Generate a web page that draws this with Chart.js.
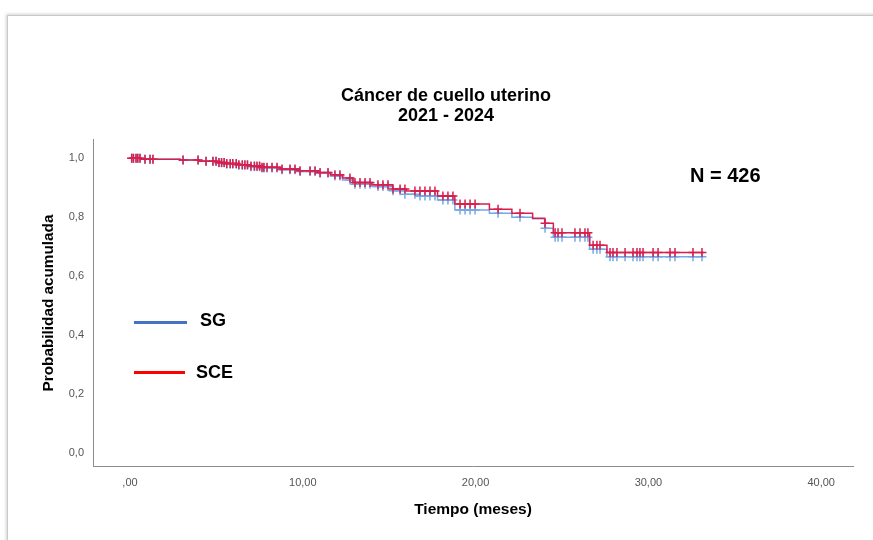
<!DOCTYPE html>
<html lang="es">
<head>
<meta charset="UTF-8">
<title>Cáncer de cuello uterino 2021 - 2024</title>
<script src="https://cdn.jsdelivr.net/npm/chart.js"></script>
<style>
  html, body { margin: 0; padding: 0; background: #fff; overflow: hidden; }
  body { width: 873px; height: 540px; position: relative; font-family: "Liberation Sans", Arial, sans-serif; }
  .marco { position: absolute; left: 7px; top: 15px; width: 880px; height: 540px;
           border-top: 1px solid #c9c9c9; border-left: 1px solid #c9c9c9;
           box-shadow: -1px -1px 3px rgba(0,0,0,.18); }
  #km { position: absolute; left: 0; top: 0; }
  .linea { position: absolute; left: 134px; }
  .etq { position: absolute; font-weight: bold; color: #000; white-space: nowrap; }
</style>
</head>
<body>
<div class="marco"></div>
<canvas id="km" width="873" height="540"></canvas>

<div class="linea" style="top:320.5px; width:53px; height:3.5px; background:#4472c4;"></div>
<div class="etq" style="left:200px; top:311px; font-size:18px; line-height:18px;">SG</div>
<div class="linea" style="top:371px; width:51px; height:3px; background:#ff0000;"></div>
<div class="etq" style="left:196px; top:363px; font-size:18px; line-height:18px;">SCE</div>
<div class="etq" style="left:690px; top:165px; font-size:20px; line-height:20px;">N = 426</div>

<script>
// meses en que cambia la supervivencia (Kaplan-Meier) y valor desde ese mes
const sceTiempo = [0, 0.6, 2.9, 4.0, 5.0, 5.5, 6.3, 7.0, 7.6, 8.7, 9.8, 10.9, 11.6, 12.3, 12.9,
                   14.0, 15.2, 16.0, 17.8, 18.8, 20.8, 22.1, 23.3, 24.0, 24.5, 26.6, 27.6];
const sceSupervivencia = [1.0, 0.997, 0.994, 0.990, 0.986, 0.982, 0.978, 0.974, 0.970, 0.964, 0.958,
                          0.952, 0.944, 0.933, 0.918, 0.910, 0.896, 0.889, 0.872, 0.845, 0.827,
                          0.814, 0.797, 0.780, 0.748, 0.705, 0.681];

const sgTiempo = [0, 0.6, 2.9, 4.0, 5.0, 5.5, 6.3, 7.0, 7.6, 8.7, 9.8, 10.9, 11.6, 12.3, 12.9,
                  14.0, 15.2, 15.9, 16.5, 17.8, 18.8, 20.8, 22.1, 23.3, 24.0, 24.5, 26.6, 27.6];
const sgSupervivencia = [1.0, 0.997, 0.994, 0.990, 0.985, 0.980, 0.976, 0.971, 0.967, 0.961, 0.955,
                         0.949, 0.940, 0.926, 0.912, 0.904, 0.890, 0.878, 0.872, 0.859, 0.825,
                         0.814, 0.800, 0.795, 0.763, 0.732, 0.692, 0.666];

// casos censurados (meses)
const censuras = [0.1, 0.2, 0.35, 0.45, 0.58, 0.87, 1.16, 1.33, 3.07, 3.94, 4.4, 4.8, 4.98, 5.15,
  5.3, 5.45, 5.6, 5.8, 5.95, 6.15, 6.3, 6.5, 6.65, 6.8, 7.0, 7.2, 7.35, 7.5, 7.64, 7.75, 7.93,
  8.22, 8.51, 8.8, 9.26, 9.55, 9.84, 10.42, 10.71, 11.0, 11.46, 11.86, 12.15, 12.73, 13.02,
  13.31, 13.6, 13.89, 14.35, 14.64, 14.93, 15.22, 15.63, 15.91, 16.49, 16.78, 17.07, 17.36,
  17.65, 18.11, 18.4, 18.69, 19.1, 19.39, 19.68, 19.97, 21.3, 22.57, 24.02, 24.6, 24.77, 25.0,
  25.75, 26.04, 26.33, 26.5, 26.8, 27.02, 27.2, 27.78, 27.95, 28.18, 28.65, 29.11, 29.34,
  29.51, 29.69, 30.27, 30.56, 31.25, 31.54, 32.58, 33.1];
const tiempoFinal = 33.2;

const ticksX = [0, 10, 20, 30, 40];
const ticksY = [0, 0.2, 0.4, 0.6, 0.8, 1.0];

function curva(tiempos, valores) {
  const pts = tiempos.map((t, i) => ({ x: t, y: valores[i] }));
  pts.push({ x: tiempoFinal, y: valores[valores.length - 1] });
  return pts;
}

function censurados(tiempos, valores) {
  return censuras.map(t => {
    let s = valores[0];
    for (let i = 0; i < tiempos.length; i++) if (tiempos[i] <= t) s = valores[i];
    return { x: t, y: s };
  });
}

const rojo = '#d81e4b';
const azul = '#72a9ea';
const fuente = '"Liberation Sans", Arial, sans-serif';

new Chart(document.getElementById('km'), {
  type: 'line',
  data: {
    datasets: [
      { label: 'SCE', data: curva(sceTiempo, sceSupervivencia), borderColor: rojo, borderWidth: 1.5,
        stepped: true, pointRadius: 0, fill: false, order: 1 },
      { label: 'SCE censurado', data: censurados(sceTiempo, sceSupervivencia), showLine: false,
        pointStyle: 'cross', pointRadius: 4.5, pointBorderWidth: 1.5, borderColor: rojo, order: 1 },
      { label: 'SG', data: curva(sgTiempo, sgSupervivencia), borderColor: azul, borderWidth: 1.5,
        stepped: true, pointRadius: 0, fill: false, order: 2 },
      { label: 'SG censurado', data: censurados(sgTiempo, sgSupervivencia), showLine: false,
        pointStyle: 'cross', pointRadius: 4.5, pointBorderWidth: 1.5, borderColor: azul, order: 2 }
    ]
  },
  options: {
    responsive: false,
    animation: false,
    events: [],
    layout: { padding: { left: 39, right: 20, top: 0, bottom: 0 } },
    plugins: {
      legend: { display: false },
      tooltip: { enabled: false },
      title: {
        display: true,
        text: ['Cáncer de cuello uterino', '2021 - 2024'],
        color: '#000',
        font: { family: fuente, size: 18, weight: 'bold', lineHeight: 1.111 },
        padding: { top: 86, bottom: 14 }
      }
    },
    scales: {
      x: {
        type: 'linear',
        min: -2.14,
        max: 41.84,
        afterBuildTicks: s => { s.ticks = ticksX.map(v => ({ value: v })); },
        afterFit: s => { s.height = 74; },
        grid: { display: false, drawTicks: false },
        border: { display: true, color: '#8c8c8c', width: 1 },
        ticks: {
          padding: 10,
          color: '#555',
          font: { family: fuente, size: 11 },
          callback: v => v === 0 ? ',00' : v.toFixed(2).replace('.', ',')
        },
        title: {
          display: true,
          text: 'Tiempo (meses)',
          color: '#000',
          font: { family: fuente, size: 15.5, weight: 'bold' },
          padding: { top: 0, bottom: 21 }
        }
      },
      y: {
        min: -0.043,
        max: 1.062,
        afterBuildTicks: s => { s.ticks = ticksY.map(v => ({ value: v })); },
        afterFit: s => { s.width = 54; },
        grid: { display: false, drawTicks: false },
        border: { display: true, color: '#8c8c8c', width: 1 },
        ticks: {
          padding: 9,
          color: '#555',
          font: { family: fuente, size: 11 },
          callback: v => v.toFixed(1).replace('.', ',')
        },
        title: {
          display: true,
          text: 'Probabilidad acumulada',
          color: '#000',
          font: { family: fuente, size: 15.3, weight: 'bold' },
          padding: { top: 1, bottom: 0 }
        }
      }
    }
  }
});
</script>
</body>
</html>
